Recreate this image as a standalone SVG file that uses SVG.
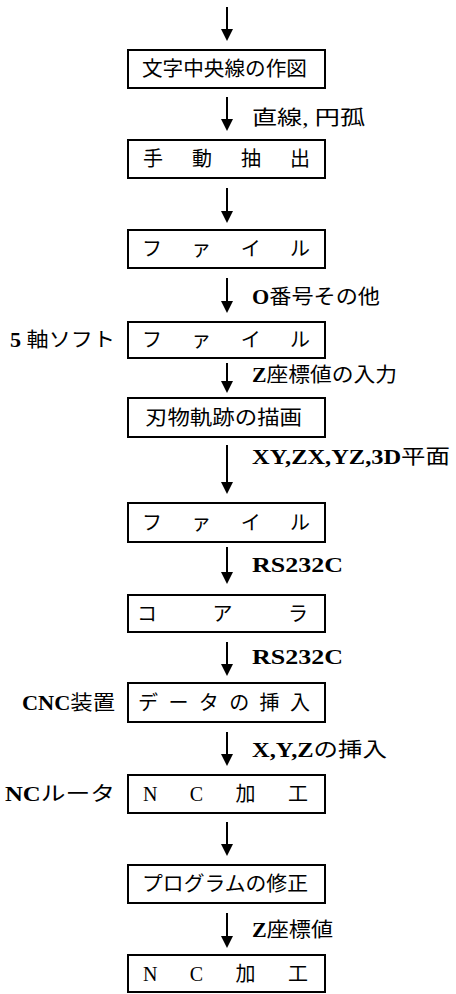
<svg xmlns="http://www.w3.org/2000/svg" width="456" height="994" viewBox="0 0 456 994">
<defs>
<style>
.n{fill:#fff;stroke:#000;stroke-width:2}
.c line{stroke:#000;stroke-width:2}
.c path{fill:#000}
text{font-family:"Liberation Serif","Noto Sans CJK JP",serif;font-size:20px;fill:#000}
.l{font-weight:normal}
.e{text-anchor:end;font-weight:normal}
.w{font-weight:bold}
</style>
</defs>
<rect width="456" height="994" fill="#fff"/>
<g class="c" id="connectors">
<line x1="227" y1="7" x2="227" y2="30"/><path d="M221,29 L233,29 L227,41 Z"/>
<line x1="227" y1="97" x2="227" y2="120"/><path d="M221,119 L233,119 L227,131 Z"/>
<line x1="227" y1="188" x2="227" y2="212"/><path d="M221,211 L233,211 L227,223 Z"/>
<line x1="227" y1="278" x2="227" y2="302"/><path d="M221,301 L233,301 L227,313 Z"/>
<line x1="227" y1="363" x2="227" y2="382"/><path d="M221,381 L233,381 L227,393 Z"/>
<line x1="227" y1="445" x2="227" y2="483"/><path d="M221,482 L233,482 L227,494 Z"/>
<line x1="227" y1="547" x2="227" y2="573"/><path d="M221,572 L233,572 L227,584 Z"/>
<line x1="227" y1="642" x2="227" y2="665"/><path d="M221,664 L233,664 L227,676 Z"/>
<line x1="227" y1="732" x2="227" y2="755"/><path d="M221,754 L233,754 L227,766 Z"/>
<line x1="227" y1="822" x2="227" y2="845"/><path d="M221,844 L233,844 L227,856 Z"/>
<line x1="227" y1="913" x2="227" y2="937"/><path d="M221,936 L233,936 L227,948 Z"/>
<text class="l" x="252" y="125" textLength="113" lengthAdjust="spacingAndGlyphs">直線, 円孤</text>
<text class="l" x="252" y="304" textLength="128" lengthAdjust="spacingAndGlyphs"><tspan class="w">O</tspan>番号その他</text>
<text class="l" x="252" y="382" textLength="145" lengthAdjust="spacingAndGlyphs"><tspan class="w">Z</tspan>座標値の入力</text>
<text class="l" x="252" y="464" textLength="198" lengthAdjust="spacingAndGlyphs"><tspan class="w">XY,ZX,YZ,3D</tspan>平面</text>
<text class="w" x="252" y="572" textLength="91" lengthAdjust="spacingAndGlyphs">RS232C</text>
<text class="w" x="252" y="664" textLength="91" lengthAdjust="spacingAndGlyphs">RS232C</text>
<text class="l" x="252" y="757" textLength="135" lengthAdjust="spacingAndGlyphs"><tspan class="w">X,Y,Z</tspan>の挿入</text>
<text class="l" x="252" y="937" textLength="81" lengthAdjust="spacingAndGlyphs"><tspan class="w">Z</tspan>座標値</text>
</g>
<g id="n1"><rect class="n" x="128" y="50" width="197" height="38"/><text x="142" y="76" textLength="165" lengthAdjust="spacingAndGlyphs">文字中央線の作図</text></g>
<g id="n2"><rect class="n" x="128" y="140" width="197" height="38"/><text x="143" y="166" textLength="167" lengthAdjust="spacing">手動抽出</text></g>
<g id="n3"><rect class="n" x="128" y="230" width="197" height="38"/><text x="142" y="256" textLength="168" lengthAdjust="spacing">ファイル</text></g>
<g id="n4"><rect class="n" x="128" y="322" width="197" height="36"/><text x="142" y="347" textLength="168" lengthAdjust="spacing">ファイル</text><text class="e" x="115" y="347" textLength="105" lengthAdjust="spacingAndGlyphs"><tspan class="w">5</tspan> 軸ソフト</text></g>
<g id="n5"><rect class="n" x="128" y="398" width="197" height="39"/><text x="145" y="425" textLength="157" lengthAdjust="spacingAndGlyphs">刃物軌跡の描画</text></g>
<g id="n6"><rect class="n" x="128" y="503" width="197" height="39"/><text x="142" y="530" textLength="168" lengthAdjust="spacing">ファイル</text></g>
<g id="n7"><rect class="n" x="128" y="595" width="197" height="37"/><text x="137" y="621" textLength="171" lengthAdjust="spacing">コアラ</text></g>
<g id="n8"><rect class="n" x="128" y="683" width="197" height="39"/><text x="138" y="710" textLength="172" lengthAdjust="spacing">データの挿入</text><text class="e" x="115" y="710" textLength="93" lengthAdjust="spacingAndGlyphs"><tspan class="w">CNC</tspan>装置</text></g>
<g id="n9"><rect class="n" x="128" y="775" width="197" height="38"/><text x="143" y="801" textLength="165" lengthAdjust="spacing">NC加工</text><text class="e" x="115" y="801" textLength="110" lengthAdjust="spacingAndGlyphs"><tspan class="w">NC</tspan>ルータ</text></g>
<g id="n10"><rect class="n" x="128" y="865" width="197" height="38"/><text x="142" y="891" textLength="166" lengthAdjust="spacingAndGlyphs">プログラムの修正</text></g>
<g id="n11"><rect class="n" x="128" y="955" width="197" height="37"/><text x="143" y="981" textLength="165" lengthAdjust="spacing">NC加工</text></g>
</svg>
